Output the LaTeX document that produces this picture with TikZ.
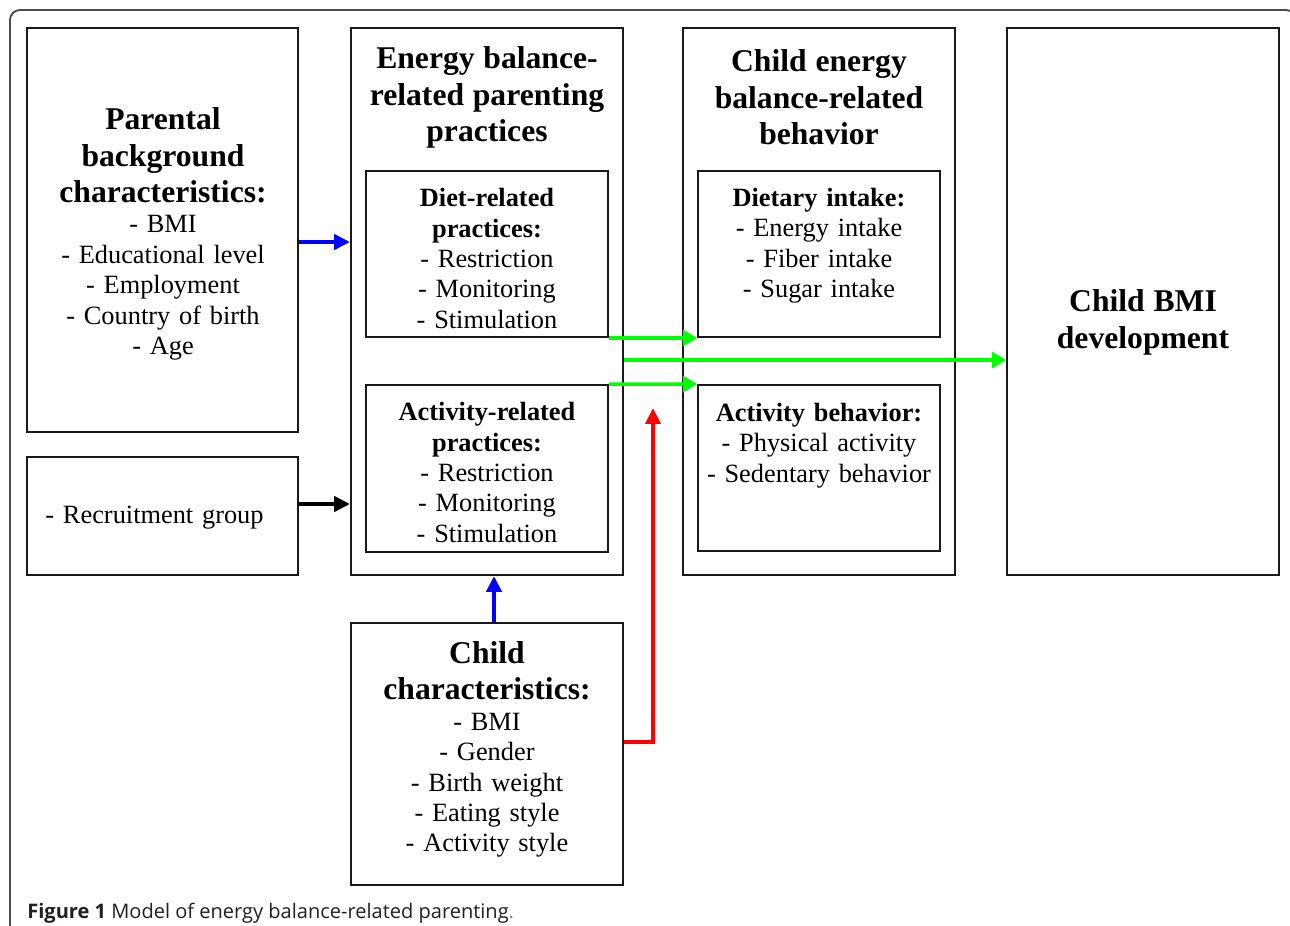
\documentclass[tikz,border=0pt]{standalone}
\usepackage{fontspec}
\setmainfont{Liberation Serif}
\newfontfamily\capfont{Open Sans}
\usepackage{xcolor}
\usetikzlibrary{arrows.meta,positioning,fit}
\newcommand{\headtxt}{\fontsize{18}{20.7}\selectfont\bfseries}
\newcommand{\subtxt}{\fontsize{15}{17.3}\selectfont\bfseries}
\newcommand{\bodytxt}{\fontsize{15}{17.3}\selectfont}
\definecolor{capgray}{HTML}{231F20}

\begin{document}
\begin{tikzpicture}[x=0.2mm,y=-0.2mm,
	box/.style={draw=black!90,line width=1.1pt,inner sep=0pt},
	txt/.style={text width=52mm,align=center,inner sep=0pt,font=\bodytxt},
	bluearr/.style={-{Triangle[length=9pt,width=8.5pt]},blue,line width=2.3pt},
	blackarr/.style={-{Triangle[length=9pt,width=8.5pt]},black,line width=2.3pt},
	redarr/.style={-{Triangle[length=9pt,width=8.5pt]},red,line width=2pt},
	greenarr/.style={-{Triangle[length=8pt,width=9pt]},green,line width=2pt}]
	\useasboundingbox (0,0) rectangle (1290,926);
	\clip (0,0) rectangle (1290,926);
	% frame of the figure
	\draw[black!70,line width=1.1pt,rounded corners=2mm] (10,960) -- (10,10) -- (1296,10) -- (1296,960);
	% boxes
	\node[box,fit={(27,28) (298,432)}] (parent) {};
	\node[box,fit={(27,457) (298,575)}] (recruit) {};
	\node[box,fit={(351,28) (623,575)}] (practices) {};
	\node[box,fit={(366,171) (608,337)}] (dietpr) {};
	\node[box,fit={(366,385) (608,552)}] (actpr) {};
	\node[box,fit={(683,28) (955,575)}] (behavior) {};
	\node[box,fit={(698,171) (940,337)}] (intake) {};
	\node[box,fit={(698,385) (940,551)}] (actbeh) {};
	\node[box,fit={(1007,28) (1279,575)}] (bmi) {};
	\node[box,fit={(351,623) (623,885)}] (child) {};
	% texts
	\node[txt] (parenttxt) at (163,234) {{\headtxt Parental\\background\\characteristics:\par}- BMI\\- Educational level\\- Employment\\- Country of birth\\- Age};
	\node[txt] (recruittxt) at (154.5,518) {- Recruitment group};
	\node[txt] (practicestxt) at (487,97.5) {{\headtxt Energy balance-\\related parenting\\practices\par}};
	\node[txt] (diettxt) at (487,258.5) {{\subtxt Diet-related\\practices:\par}- Restriction\\- Monitoring\\- Stimulation};
	\node[txt] (acttxt) at (487,472.5) {{\subtxt Activity-related\\practices:\par}- Restriction\\- Monitoring\\- Stimulation};
	\node[txt] (behaviortxt) at (819,97.5) {{\headtxt Child energy\\balance-related\\behavior\par}};
	\node[txt] (intaketxt) at (819,245.5) {{\subtxt Dietary intake:\par}- Energy intake\\- Fiber intake\\- Sugar intake};
	\node[txt] (actbehtxt) at (819,445.5) {{\subtxt Activity behavior:\par}- Physical activity\\- Sedentary behavior};
	\node[txt] (bmitxt) at (1143,322.5) {{\headtxt Child BMI\\development\par}};
	\node[txt] (childtxt) at (487,749.5) {{\headtxt Child\\characteristics:\par}- BMI\\- Gender\\- Birth weight\\- Eating style\\- Activity style};
	% arrows
	\coordinate (redtip) at (653,408);
	\draw[bluearr] (parent.east |- 0,242) -- (practices.west |- 0,242);
	\draw[blackarr] (recruit.east |- 0,504) -- (practices.west |- 0,504);
	\draw[bluearr] (child.north -| 494,0) -- (practices.south -| 494,0);
	\draw[redarr] (child.east |- 0,742) -| (redtip);
	\draw[greenarr] (dietpr.south east) -- (intake.south west);
	\draw[greenarr] (practices.east |- 0,360) -- (bmi.west |- 0,360);
	\draw[greenarr] (actpr.north east) -- (actbeh.north west);
	% caption
	\node[anchor=base west,inner sep=0pt,text=capgray,font=\capfont\fontsize{11.4}{14}\selectfont] (caption) at (27,918) {\textbf{Figure 1} Model of energy balance-related parenting\textcolor{gray}{.}};
\end{tikzpicture}
\end{document}
